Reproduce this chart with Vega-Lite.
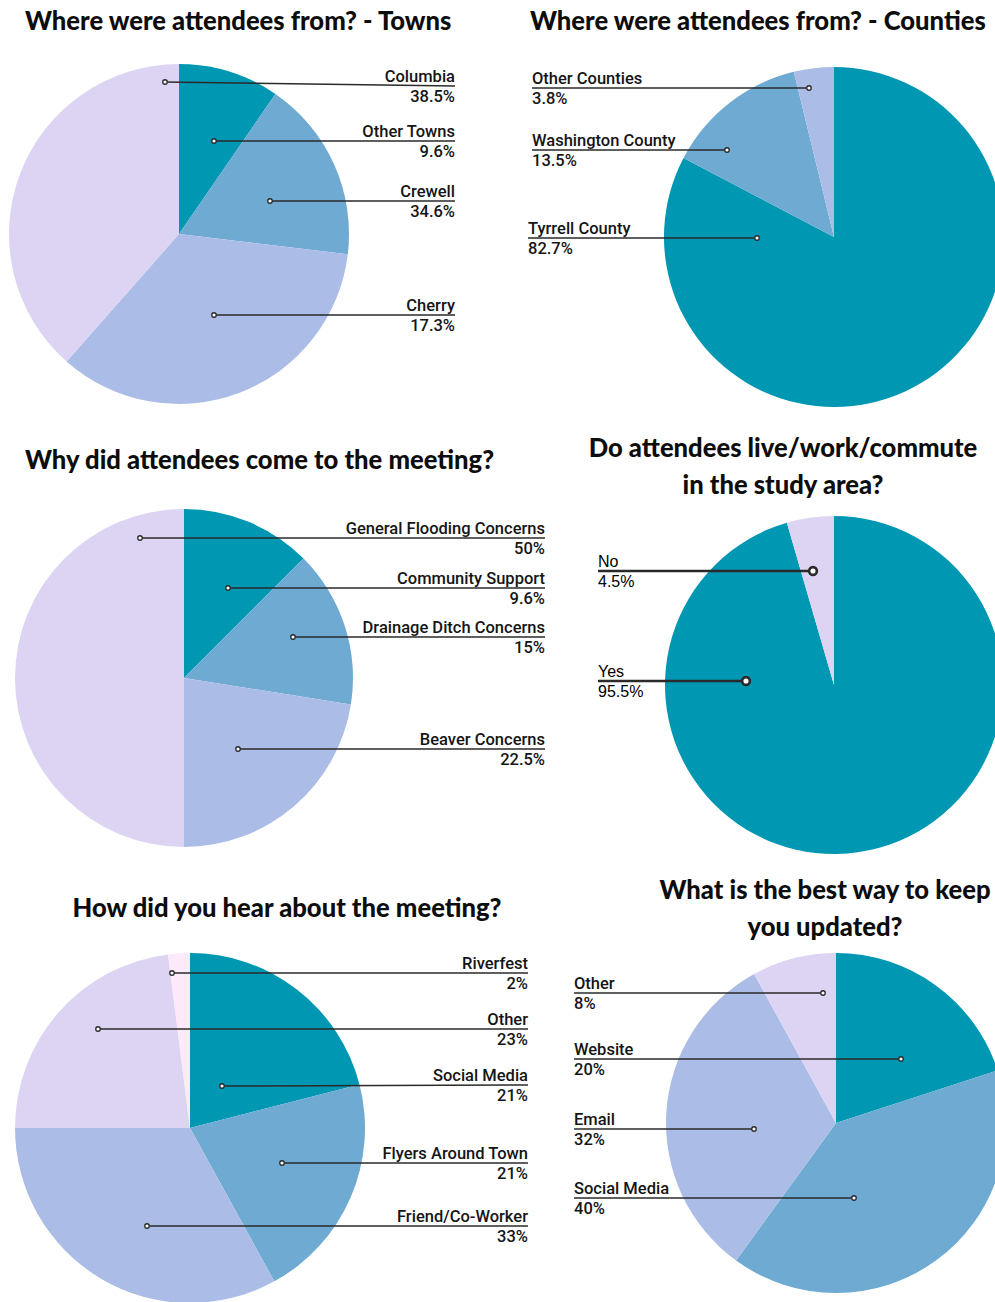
{
  "$schema": "https://vega.github.io/schema/vega-lite/v6.json",
  "width": 995,
  "height": 1302,
  "autosize": {"type": "none"},
  "padding": 0,
  "background": "white",
  "config": {"view": {"stroke": null}},
  "datasets": {
    "slices": [
      {"pie": "towns", "k": 1, "share": 9.6},
      {"pie": "towns", "k": 2, "share": 17.3},
      {"pie": "towns", "k": 3, "share": 34.6},
      {"pie": "towns", "k": 4, "share": 38.5},
      {"pie": "counties", "k": 1, "share": 82.7},
      {"pie": "counties", "k": 2, "share": 13.5},
      {"pie": "counties", "k": 3, "share": 3.8},
      {"pie": "why", "k": 1, "share": 12.5},
      {"pie": "why", "k": 2, "share": 15},
      {"pie": "why", "k": 3, "share": 22.5},
      {"pie": "why", "k": 4, "share": 50},
      {"pie": "live", "k": 1, "share": 95.5},
      {"pie": "live", "k": 4, "share": 4.5},
      {"pie": "hear", "k": 1, "share": 21},
      {"pie": "hear", "k": 2, "share": 21},
      {"pie": "hear", "k": 3, "share": 33},
      {"pie": "hear", "k": 4, "share": 23},
      {"pie": "hear", "k": 5, "share": 2},
      {"pie": "updated", "k": 1, "share": 20},
      {"pie": "updated", "k": 2, "share": 40},
      {"pie": "updated", "k": 3, "share": 32},
      {"pie": "updated", "k": 4, "share": 8}
    ],
    "callouts": [
      {"pie": "towns", "name": "Columbia", "pct": "38.5%", "px": 165, "py": 82, "lx": 455, "ly": 86},
      {"pie": "towns", "name": "Other Towns", "pct": "9.6%", "px": 214, "py": 141, "lx": 455, "ly": 141},
      {"pie": "towns", "name": "Crewell", "pct": "34.6%", "px": 270, "py": 201, "lx": 455, "ly": 201},
      {"pie": "towns", "name": "Cherry", "pct": "17.3%", "px": 214, "py": 315, "lx": 455, "ly": 315},
      {"pie": "counties", "name": "Other Counties", "pct": "3.8%", "px": 809, "py": 88, "lx": 532, "ly": 88},
      {"pie": "counties", "name": "Washington County", "pct": "13.5%", "px": 727, "py": 150, "lx": 532, "ly": 150},
      {"pie": "counties", "name": "Tyrrell County", "pct": "82.7%", "px": 757, "py": 238, "lx": 528, "ly": 238},
      {"pie": "why", "name": "General Flooding Concerns", "pct": "50%", "px": 140, "py": 538, "lx": 545, "ly": 538},
      {"pie": "why", "name": "Community Support", "pct": "9.6%", "px": 228, "py": 588, "lx": 545, "ly": 588},
      {"pie": "why", "name": "Drainage Ditch Concerns", "pct": "15%", "px": 293, "py": 637, "lx": 545, "ly": 637},
      {"pie": "why", "name": "Beaver Concerns", "pct": "22.5%", "px": 238, "py": 749, "lx": 545, "ly": 749},
      {"pie": "live", "name": "No", "pct": "4.5%", "px": 813, "py": 571, "lx": 598, "ly": 571},
      {"pie": "live", "name": "Yes", "pct": "95.5%", "px": 746, "py": 681, "lx": 598, "ly": 681},
      {"pie": "hear", "name": "Riverfest", "pct": "2%", "px": 172, "py": 973, "lx": 528, "ly": 973},
      {"pie": "hear", "name": "Other", "pct": "23%", "px": 98, "py": 1029, "lx": 528, "ly": 1029},
      {"pie": "hear", "name": "Social Media", "pct": "21%", "px": 222, "py": 1086, "lx": 528, "ly": 1085},
      {"pie": "hear", "name": "Flyers Around Town", "pct": "21%", "px": 282, "py": 1163, "lx": 528, "ly": 1163},
      {"pie": "hear", "name": "Friend/Co-Worker", "pct": "33%", "px": 147, "py": 1226, "lx": 528, "ly": 1226},
      {"pie": "updated", "name": "Other", "pct": "8%", "px": 823, "py": 993, "lx": 574, "ly": 993},
      {"pie": "updated", "name": "Website", "pct": "20%", "px": 901, "py": 1059, "lx": 574, "ly": 1059},
      {"pie": "updated", "name": "Email", "pct": "32%", "px": 754, "py": 1129, "lx": 574, "ly": 1129},
      {"pie": "updated", "name": "Social Media", "pct": "40%", "px": 854, "py": 1198, "lx": 574, "ly": 1198}
    ],
    "titles": [
      {"pie": "towns", "title": "Where were attendees from? - Towns"},
      {"pie": "counties", "title": "Where were attendees from? - Counties"},
      {"pie": "why", "title": "Why did attendees come to the meeting?"},
      {"pie": "live", "title": "Do attendees live/work/commute\nin the study area?"},
      {"pie": "hear", "title": "How did you hear about the meeting?"},
      {"pie": "updated", "title": "What is the best way to keep\nyou updated?"}
    ]
  },
  "layer": [
    {
      "data": {"name": "slices"},
      "transform": [{"filter": "datum.pie == 'towns'"}],
      "mark": {"type": "arc", "radius": 170},
      "encoding": {
        "x": {"datum": 179, "type": "quantitative", "scale": {"domain": [0, 995], "nice": false, "zero": false}, "axis": null},
        "y": {"datum": 234, "type": "quantitative", "scale": {"domain": [0, 1302], "nice": false, "zero": false, "reverse": true}, "axis": null},
        "theta": {"field": "share", "type": "quantitative", "stack": true},
        "order": {"field": "k", "type": "quantitative"},
        "color": {"field": "k", "type": "ordinal", "scale": {"domain": [1, 2, 3, 4, 5], "range": ["#0097B2", "#6EAAD2", "#ABBDE6", "#DDD4F3", "#FCEAFA"]}, "legend": null}
      }
    },
    {
      "data": {"name": "slices"},
      "transform": [{"filter": "datum.pie == 'counties'"}],
      "mark": {"type": "arc", "radius": 170},
      "encoding": {
        "x": {"datum": 834, "type": "quantitative", "scale": {"domain": [0, 995], "nice": false, "zero": false}, "axis": null},
        "y": {"datum": 237, "type": "quantitative", "scale": {"domain": [0, 1302], "nice": false, "zero": false, "reverse": true}, "axis": null},
        "theta": {"field": "share", "type": "quantitative", "stack": true},
        "order": {"field": "k", "type": "quantitative"},
        "color": {"field": "k", "type": "ordinal", "scale": {"domain": [1, 2, 3, 4, 5], "range": ["#0097B2", "#6EAAD2", "#ABBDE6", "#DDD4F3", "#FCEAFA"]}, "legend": null}
      }
    },
    {
      "data": {"name": "slices"},
      "transform": [{"filter": "datum.pie == 'why'"}],
      "mark": {"type": "arc", "radius": 169},
      "encoding": {
        "x": {"datum": 184, "type": "quantitative", "scale": {"domain": [0, 995], "nice": false, "zero": false}, "axis": null},
        "y": {"datum": 678, "type": "quantitative", "scale": {"domain": [0, 1302], "nice": false, "zero": false, "reverse": true}, "axis": null},
        "theta": {"field": "share", "type": "quantitative", "stack": true},
        "order": {"field": "k", "type": "quantitative"},
        "color": {"field": "k", "type": "ordinal", "scale": {"domain": [1, 2, 3, 4, 5], "range": ["#0097B2", "#6EAAD2", "#ABBDE6", "#DDD4F3", "#FCEAFA"]}, "legend": null}
      }
    },
    {
      "data": {"name": "slices"},
      "transform": [{"filter": "datum.pie == 'live'"}],
      "mark": {"type": "arc", "radius": 169},
      "encoding": {
        "x": {"datum": 834, "type": "quantitative", "scale": {"domain": [0, 995], "nice": false, "zero": false}, "axis": null},
        "y": {"datum": 685, "type": "quantitative", "scale": {"domain": [0, 1302], "nice": false, "zero": false, "reverse": true}, "axis": null},
        "theta": {"field": "share", "type": "quantitative", "stack": true},
        "order": {"field": "k", "type": "quantitative"},
        "color": {"field": "k", "type": "ordinal", "scale": {"domain": [1, 2, 3, 4, 5], "range": ["#0097B2", "#6EAAD2", "#ABBDE6", "#DDD4F3", "#FCEAFA"]}, "legend": null}
      }
    },
    {
      "data": {"name": "slices"},
      "transform": [{"filter": "datum.pie == 'hear'"}],
      "mark": {"type": "arc", "radius": 175},
      "encoding": {
        "x": {"datum": 190, "type": "quantitative", "scale": {"domain": [0, 995], "nice": false, "zero": false}, "axis": null},
        "y": {"datum": 1128, "type": "quantitative", "scale": {"domain": [0, 1302], "nice": false, "zero": false, "reverse": true}, "axis": null},
        "theta": {"field": "share", "type": "quantitative", "stack": true},
        "order": {"field": "k", "type": "quantitative"},
        "color": {"field": "k", "type": "ordinal", "scale": {"domain": [1, 2, 3, 4, 5], "range": ["#0097B2", "#6EAAD2", "#ABBDE6", "#DDD4F3", "#FCEAFA"]}, "legend": null}
      }
    },
    {
      "data": {"name": "slices"},
      "transform": [{"filter": "datum.pie == 'updated'"}],
      "mark": {"type": "arc", "radius": 170},
      "encoding": {
        "x": {"datum": 836, "type": "quantitative", "scale": {"domain": [0, 995], "nice": false, "zero": false}, "axis": null},
        "y": {"datum": 1123, "type": "quantitative", "scale": {"domain": [0, 1302], "nice": false, "zero": false, "reverse": true}, "axis": null},
        "theta": {"field": "share", "type": "quantitative", "stack": true},
        "order": {"field": "k", "type": "quantitative"},
        "color": {"field": "k", "type": "ordinal", "scale": {"domain": [1, 2, 3, 4, 5], "range": ["#0097B2", "#6EAAD2", "#ABBDE6", "#DDD4F3", "#FCEAFA"]}, "legend": null}
      }
    },
    {
      "data": {"name": "callouts"},
      "mark": {"type": "rule", "color": "#2a2a2a"},
      "encoding": {
        "x": {"field": "px", "type": "quantitative", "scale": {"domain": [0, 995], "nice": false, "zero": false}, "axis": null},
        "x2": {"field": "lx"},
        "y": {"field": "py", "type": "quantitative", "scale": {"domain": [0, 1302], "nice": false, "zero": false, "reverse": true}, "axis": null},
        "y2": {"field": "ly"},
        "strokeWidth": {"condition": {"test": "datum.pie == 'live'", "value": 2.6}, "value": 1.5}
      }
    },
    {
      "data": {"name": "callouts"},
      "mark": {"type": "point", "shape": "circle", "filled": true, "color": "white", "stroke": "#2a2a2a", "opacity": 1},
      "encoding": {
        "x": {"field": "px", "type": "quantitative", "scale": {"domain": [0, 995], "nice": false, "zero": false}, "axis": null},
        "y": {"field": "py", "type": "quantitative", "scale": {"domain": [0, 1302], "nice": false, "zero": false, "reverse": true}, "axis": null},
        "size": {"condition": {"test": "datum.pie == 'live'", "value": 60}, "value": 20},
        "strokeWidth": {"condition": {"test": "datum.pie == 'live'", "value": 2.6}, "value": 1.3}
      }
    },
    {
      "data": {"name": "callouts"},
      "transform": [{"filter": "datum.pie == 'towns' || datum.pie == 'why' || datum.pie == 'hear'"}],
      "mark": {"type": "text", "align": "right", "baseline": "alphabetic", "dy": -4, "font": "Roboto", "fontWeight": 500, "fontSize": 16.5, "color": "#151515"},
      "encoding": {
        "x": {"field": "lx", "type": "quantitative", "scale": {"domain": [0, 995], "nice": false, "zero": false}, "axis": null},
        "y": {"field": "ly", "type": "quantitative", "scale": {"domain": [0, 1302], "nice": false, "zero": false, "reverse": true}, "axis": null},
        "text": {"field": "name"}
      }
    },
    {
      "data": {"name": "callouts"},
      "transform": [{"filter": "datum.pie == 'towns' || datum.pie == 'why' || datum.pie == 'hear'"}],
      "mark": {"type": "text", "align": "right", "baseline": "top", "dy": 3, "font": "Roboto", "fontWeight": 500, "fontSize": 16.5, "color": "#151515"},
      "encoding": {
        "x": {"field": "lx", "type": "quantitative", "scale": {"domain": [0, 995], "nice": false, "zero": false}, "axis": null},
        "y": {"field": "ly", "type": "quantitative", "scale": {"domain": [0, 1302], "nice": false, "zero": false, "reverse": true}, "axis": null},
        "text": {"field": "pct"}
      }
    },
    {
      "data": {"name": "callouts"},
      "transform": [{"filter": "datum.pie == 'counties' || datum.pie == 'updated'"}],
      "mark": {"type": "text", "align": "left", "baseline": "alphabetic", "dy": -4, "font": "Roboto", "fontWeight": 500, "fontSize": 16.5, "color": "#151515"},
      "encoding": {
        "x": {"field": "lx", "type": "quantitative", "scale": {"domain": [0, 995], "nice": false, "zero": false}, "axis": null},
        "y": {"field": "ly", "type": "quantitative", "scale": {"domain": [0, 1302], "nice": false, "zero": false, "reverse": true}, "axis": null},
        "text": {"field": "name"}
      }
    },
    {
      "data": {"name": "callouts"},
      "transform": [{"filter": "datum.pie == 'counties' || datum.pie == 'updated'"}],
      "mark": {"type": "text", "align": "left", "baseline": "top", "dy": 3, "font": "Roboto", "fontWeight": 500, "fontSize": 16.5, "color": "#151515"},
      "encoding": {
        "x": {"field": "lx", "type": "quantitative", "scale": {"domain": [0, 995], "nice": false, "zero": false}, "axis": null},
        "y": {"field": "ly", "type": "quantitative", "scale": {"domain": [0, 1302], "nice": false, "zero": false, "reverse": true}, "axis": null},
        "text": {"field": "pct"}
      }
    },
    {
      "data": {"name": "callouts"},
      "transform": [{"filter": "datum.pie == 'live'"}],
      "mark": {"type": "text", "align": "left", "baseline": "alphabetic", "dy": -4, "font": "Liberation Sans", "fontSize": 16, "color": "#000000"},
      "encoding": {
        "x": {"field": "lx", "type": "quantitative", "scale": {"domain": [0, 995], "nice": false, "zero": false}, "axis": null},
        "y": {"field": "ly", "type": "quantitative", "scale": {"domain": [0, 1302], "nice": false, "zero": false, "reverse": true}, "axis": null},
        "text": {"field": "name"}
      }
    },
    {
      "data": {"name": "callouts"},
      "transform": [{"filter": "datum.pie == 'live'"}],
      "mark": {"type": "text", "align": "left", "baseline": "top", "dy": 3, "font": "Liberation Sans", "fontSize": 16, "color": "#000000"},
      "encoding": {
        "x": {"field": "lx", "type": "quantitative", "scale": {"domain": [0, 995], "nice": false, "zero": false}, "axis": null},
        "y": {"field": "ly", "type": "quantitative", "scale": {"domain": [0, 1302], "nice": false, "zero": false, "reverse": true}, "axis": null},
        "text": {"field": "pct"}
      }
    },
    {
      "data": {"name": "titles"},
      "transform": [{"filter": "datum.pie == 'towns'"}],
      "mark": {"type": "text", "align": "left", "baseline": "alphabetic", "font": "Lato", "fontWeight": 900, "fontSize": 25.6, "color": "#0d0d0d", "lineBreak": "\n", "lineHeight": 37},
      "encoding": {
        "x": {"datum": 25, "type": "quantitative", "scale": {"domain": [0, 995], "nice": false, "zero": false}, "axis": null},
        "y": {"datum": 30, "type": "quantitative", "scale": {"domain": [0, 1302], "nice": false, "zero": false, "reverse": true}, "axis": null},
        "text": {"field": "title"}
      }
    },
    {
      "data": {"name": "titles"},
      "transform": [{"filter": "datum.pie == 'counties'"}],
      "mark": {"type": "text", "align": "left", "baseline": "alphabetic", "font": "Lato", "fontWeight": 900, "fontSize": 25.6, "color": "#0d0d0d", "lineBreak": "\n", "lineHeight": 37},
      "encoding": {
        "x": {"datum": 530, "type": "quantitative", "scale": {"domain": [0, 995], "nice": false, "zero": false}, "axis": null},
        "y": {"datum": 30, "type": "quantitative", "scale": {"domain": [0, 1302], "nice": false, "zero": false, "reverse": true}, "axis": null},
        "text": {"field": "title"}
      }
    },
    {
      "data": {"name": "titles"},
      "transform": [{"filter": "datum.pie == 'why'"}],
      "mark": {"type": "text", "align": "left", "baseline": "alphabetic", "font": "Lato", "fontWeight": 900, "fontSize": 25.6, "color": "#0d0d0d", "lineBreak": "\n", "lineHeight": 37},
      "encoding": {
        "x": {"datum": 25, "type": "quantitative", "scale": {"domain": [0, 995], "nice": false, "zero": false}, "axis": null},
        "y": {"datum": 469, "type": "quantitative", "scale": {"domain": [0, 1302], "nice": false, "zero": false, "reverse": true}, "axis": null},
        "text": {"field": "title"}
      }
    },
    {
      "data": {"name": "titles"},
      "transform": [{"filter": "datum.pie == 'live'"}],
      "mark": {"type": "text", "align": "center", "baseline": "alphabetic", "font": "Lato", "fontWeight": 900, "fontSize": 25.6, "color": "#0d0d0d", "lineBreak": "\n", "lineHeight": 37},
      "encoding": {
        "x": {"datum": 783, "type": "quantitative", "scale": {"domain": [0, 995], "nice": false, "zero": false}, "axis": null},
        "y": {"datum": 457, "type": "quantitative", "scale": {"domain": [0, 1302], "nice": false, "zero": false, "reverse": true}, "axis": null},
        "text": {"field": "title"}
      }
    },
    {
      "data": {"name": "titles"},
      "transform": [{"filter": "datum.pie == 'hear'"}],
      "mark": {"type": "text", "align": "center", "baseline": "alphabetic", "font": "Lato", "fontWeight": 900, "fontSize": 25.6, "color": "#0d0d0d", "lineBreak": "\n", "lineHeight": 37},
      "encoding": {
        "x": {"datum": 287, "type": "quantitative", "scale": {"domain": [0, 995], "nice": false, "zero": false}, "axis": null},
        "y": {"datum": 917, "type": "quantitative", "scale": {"domain": [0, 1302], "nice": false, "zero": false, "reverse": true}, "axis": null},
        "text": {"field": "title"}
      }
    },
    {
      "data": {"name": "titles"},
      "transform": [{"filter": "datum.pie == 'updated'"}],
      "mark": {"type": "text", "align": "center", "baseline": "alphabetic", "font": "Lato", "fontWeight": 900, "fontSize": 25.6, "color": "#0d0d0d", "lineBreak": "\n", "lineHeight": 37},
      "encoding": {
        "x": {"datum": 825, "type": "quantitative", "scale": {"domain": [0, 995], "nice": false, "zero": false}, "axis": null},
        "y": {"datum": 899, "type": "quantitative", "scale": {"domain": [0, 1302], "nice": false, "zero": false, "reverse": true}, "axis": null},
        "text": {"field": "title"}
      }
    }
  ]
}
